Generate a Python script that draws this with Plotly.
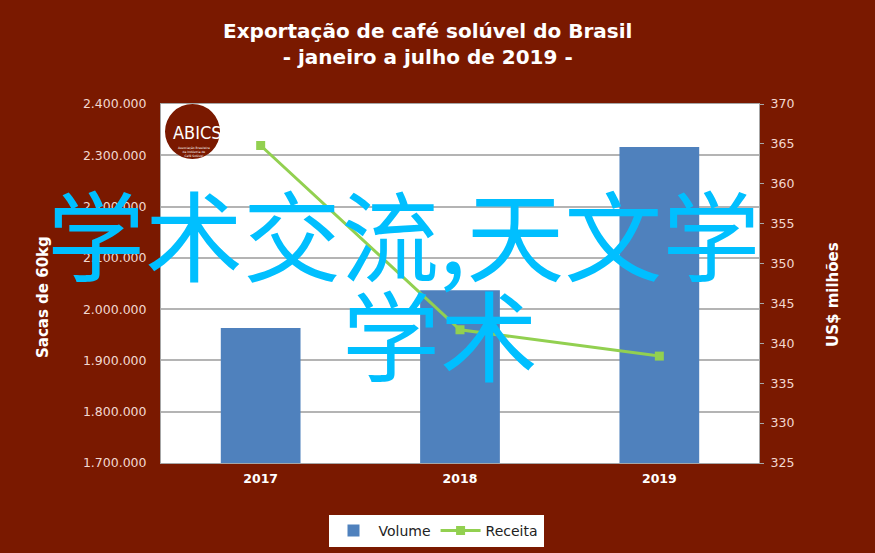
import plotly.graph_objects as go

years = ["2017", "2018", "2019"]
volume = [1963000, 2037000, 2316000]
receita = [364.8, 341.7, 338.4]

W, H = 875, 553
L, R, T, B = 161, 759, 104, 463

def px(x):
    return (x - L) / (R - L)

def py(y):
    return (B - y) / (B - T)

BG = "#7A1900"
TICK = "#F2D8D0"

fig = go.Figure()
fig.add_trace(go.Bar(x=years, y=volume, name="Volume", marker_color="#4F81BD",
                     marker_line_width=0))
fig.add_trace(go.Scatter(x=years, y=receita, name="Receita", yaxis="y2",
                         mode="lines+markers",
                         line=dict(color="#92D050", width=3),
                         marker=dict(symbol="square", size=9, color="#92D050")))

fig.update_layout(
    width=W, height=H,
    paper_bgcolor=BG, plot_bgcolor="white",
    margin=dict(l=L, r=W - R, t=T, b=H - B, autoexpand=False),
    separators=",.",
    bargap=0.6,
    showlegend=True,
    font=dict(family="DejaVu Sans", color=TICK),
    xaxis=dict(showline=True, linecolor="#A6A6A6", mirror=True, ticks="",
               tickfont=dict(size=12.5, color="white", family="DejaVu Sans", weight="bold"),
               ticklabelstandoff=4, showgrid=False),
    yaxis=dict(range=[1700000, 2400000], dtick=100000, tickformat=",d",
               showgrid=True, gridcolor="#B4B4B4", gridwidth=1.5,
               showline=True, linecolor="#A6A6A6", ticks="",
               ticklabelstandoff=11,
               tickfont=dict(size=12.5, color=TICK), zeroline=False),
    yaxis2=dict(range=[325, 370], dtick=5, overlaying="y", side="right",
                showgrid=False, showline=True, linecolor="#A6A6A6",
                ticks="outside", ticklen=4, tickcolor="#A6A6A6",
                ticklabelstandoff=4,
                tickfont=dict(size=12.5, color=TICK), zeroline=False),
    legend=dict(orientation="h", x=px(436), y=py(531), xanchor="center",
                yanchor="middle", bgcolor="white",
                font=dict(size=14, color="#222222", family="DejaVu Sans"),
                itemwidth=40),
)

ann = []
ann.append(dict(text="<b>Exportação de café solúvel do Brasil</b><br><b>- janeiro a julho de 2019 -</b>",
                xref="paper", yref="paper", x=px(427), y=py(44), xanchor="center",
                yanchor="middle", showarrow=False,
                font=dict(size=20, color="white", family="DejaVu Sans")))
ann.append(dict(text="<b>Sacas de 60kg</b>", xref="paper", yref="paper",
                x=px(43), y=py(297), textangle=-90, showarrow=False,
                xanchor="center", yanchor="middle",
                font=dict(size=15, color="white")))
ann.append(dict(text="<b>US$ milhões</b>", xref="paper", yref="paper",
                x=px(833), y=py(295), textangle=-90, showarrow=False,
                xanchor="center", yanchor="middle",
                font=dict(size=15, color="white")))
# logo
ann.append(dict(text="ABICS", xref="paper", yref="paper", x=px(197), y=py(132),
                showarrow=False, xanchor="center", yanchor="middle",
                font=dict(size=18, color="white", family="Liberation Sans Narrow, DejaVu Sans Condensed")))
ann.append(dict(text="Associação Brasileira<br>da Indústria de<br>Café Solúvel",
                xref="paper", yref="paper", x=px(194), y=py(152),
                showarrow=False, xanchor="center", yanchor="middle",
                font=dict(size=3, color="white")))
# watermark text
ann.append(dict(text="学术交流,天文学", xref="paper", yref="paper",
                x=px(403), y=py(231), showarrow=False, xanchor="center",
                yanchor="middle",
                font=dict(size=98, color="#00BFFF", family="Noto Sans CJK SC")))
ann.append(dict(text="学术", xref="paper", yref="paper",
                x=px(440), y=py(331), showarrow=False, xanchor="center",
                yanchor="middle",
                font=dict(size=98, color="#00BFFF", family="Noto Sans CJK SC")))
fig.update_layout(annotations=ann)

fig.add_shape(type="circle", xref="paper", yref="paper",
              x0=px(165), x1=px(220), y0=py(104), y1=py(159),
              fillcolor="#7A1900", line_width=0, layer="above")

fig.write_html("out.html", config={"displayModeBar": False},
               post_script="document.body.style.margin='0px';document.body.style.overflow='hidden';")
